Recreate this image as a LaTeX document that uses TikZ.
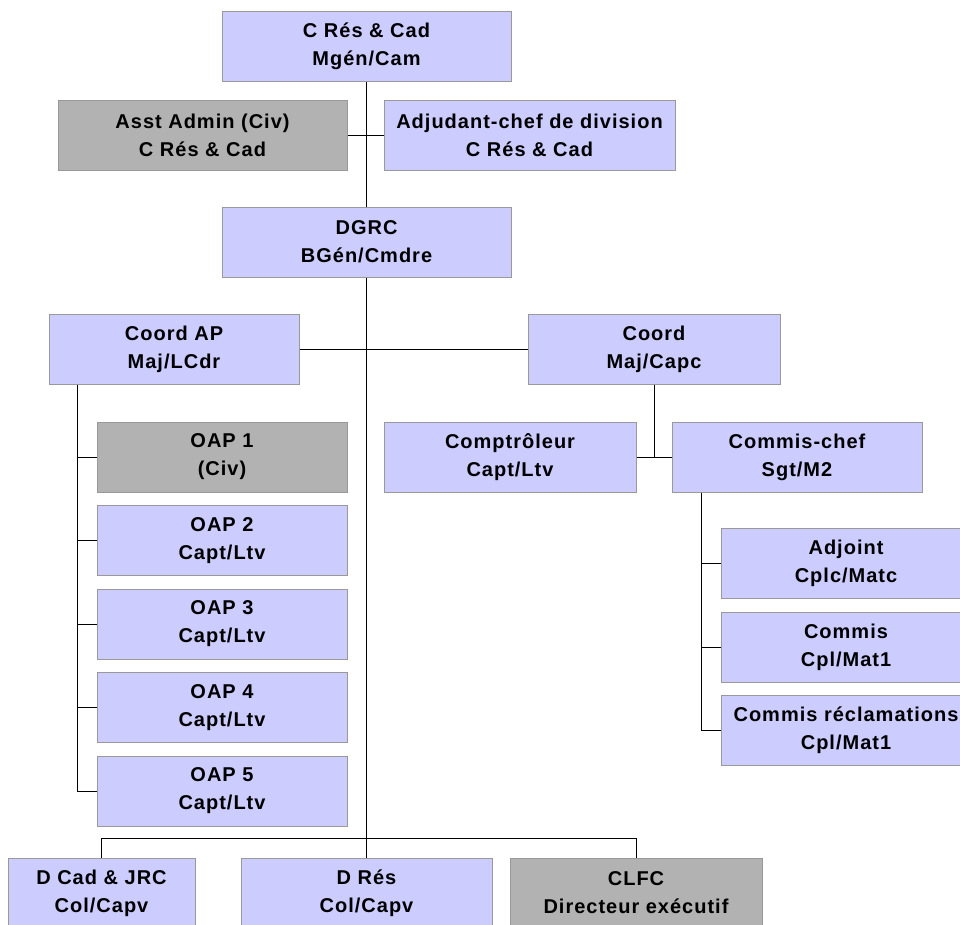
\documentclass[tikz,border=0pt]{standalone}
\usepackage{fontspec}
\setmainfont{Liberation Sans}[LetterSpace=5]
\usetikzlibrary{positioning}
\definecolor{lavbox}{HTML}{CCCCFF}
\definecolor{greybox}{HTML}{B2B2B2}
\definecolor{boxline}{HTML}{999999}
\tikzset{
  poste/.style={draw=boxline, fill=lavbox, line width=1pt, inner sep=0pt,
    minimum width=250pt, minimum height=70pt, align=center,
    font=\fontsize{20}{28}\selectfont\bfseries},
  civil/.style={poste, fill=greybox},
  lien/.style={line width=1pt, black}
}

\begin{document}
\begin{tikzpicture}[x=1pt, y=-1pt]
    \clip (0,0) rectangle (960,924);
    \fill[white] (0,0) rectangle (960,924);
    % haut
    \node[poste, minimum width=289pt] (cres) at (366.5,46.5) {C Rés \& Cad\\Mgén/Cam};
    \node[civil, minimum width=289pt] (asst) at (202.5,135.5) {Asst Admin (Civ)\\C Rés \& Cad};
    \node[poste, minimum width=291pt] (adjc) at (529.5,135.5) {Adjudant-chef de division\\C Rés \& Cad};
    \node[poste, minimum width=289pt] (dgrc) at (366.5,242) {DGRC\\BGén/Cmdre};
    % coordination
    \node[poste] (coordap) at (174,349) {Coord AP\\Maj/LCdr};
    \node[poste, minimum width=252pt] (coord) at (654,349) {Coord\\Maj/Capc};
    \node[poste, minimum width=252pt] (compt) at (510,457) {Comptrôleur\\Capt/Ltv};
    \node[poste] (chef) at (797,457) {Commis-chef\\Sgt/M2};
    % OAP
    \node[civil] (oap1) at (222,457) {OAP 1\\(Civ)};
    \node[poste, below=12.5pt of oap1] (oap2) {OAP 2\\Capt/Ltv};
    \node[poste, below=12.5pt of oap2] (oap3) {OAP 3\\Capt/Ltv};
    \node[poste, below=12.5pt of oap3] (oap4) {OAP 4\\Capt/Ltv};
    \node[poste, below=12.5pt of oap4] (oap5) {OAP 5\\Capt/Ltv};
    % commis
    \node[poste] (adjoint) at (846,563.5) {Adjoint\\Cplc/Matc};
    \node[poste, below=12.5pt of adjoint] (commis) {Commis\\Cpl/Mat1};
    \node[poste, below=12.5pt of commis] (reclam) {Commis réclamations\\Cpl/Mat1};
    % bas
    \node[poste, minimum width=187pt] (dcad) at (101.5,893) {D Cad \& JRC\\Col/Capv};
    \node[poste, minimum width=251pt] (dres) at (366.5,893) {D Rés\\Col/Capv};
    \node[civil, minimum width=252pt] (clfc) at (636,893) {CLFC\\Directeur exécutif};

    \draw[lien] (cres.south) -- (dgrc.north);
    \draw[lien] (asst.east) -- (adjc.west);
    \draw[lien] (dgrc.south) -- (dres.north);
    \draw[lien] (coordap.east) -- (coord.west);
    \draw[lien] (coord.south) -- (coord.south |- compt.east);
    \draw[lien] (compt.east) -- (chef.west);
    \coordinate (apbus) at ([xshift=29pt]coordap.south west);
    \draw[lien] (apbus) |- (oap5.west);
    \foreach \i in {1,...,4}
        \draw[lien] (apbus |- oap\i.west) -- (oap\i.west);
    \coordinate (chbus) at ([xshift=30pt]chef.south west);
    \draw[lien] (chbus) |- (reclam.west);
    \foreach \n in {adjoint,commis}
        \draw[lien] (chbus |- \n.west) -- (\n.west);
    \draw[lien] (dcad.north) -- ++(0,-19) -| (clfc.north);
\end{tikzpicture}
\end{document}
